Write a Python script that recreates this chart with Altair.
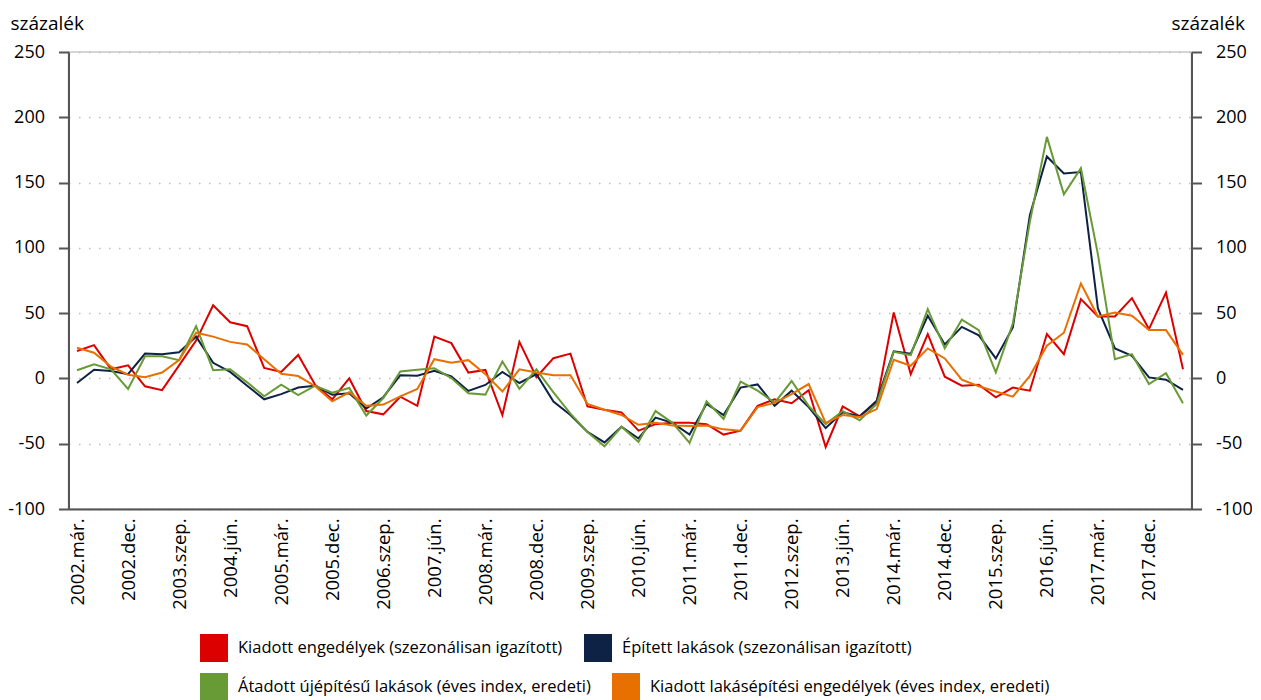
import altair as alt
import pandas as pd

years = list(range(2002, 2019))
months = ["már.", "jún.", "szep.", "dec."]
quarters = [f"{y}.{m}" for y in years for m in months][:66]
tick_labels = quarters[::3]

names = [
    "Kiadott engedélyek (szezonálisan igazított)",
    "Épített lakások (szezonálisan igazított)",
    "Átadott újépítésű lakások (éves index, eredeti)",
    "Kiadott lakásépítési engedélyek (éves index, eredeti)",
]
colors = ["#DC0000", "#0E2246", "#689A35", "#E87000"]

kiadott_sa = [21, 25.5, 7, 10, -6, -9, 10, 29, 56, 43, 40, 8, 5, 18, -5, -16,
              0, -25, -27.5, -14, -21, 32, 27, 4.5, 6.5, -28, 28, 1, 15.5, 19, -21.5, -24,
              -26, -40, -35, -34, -34, -35, -43, -40, -21, -16, -19, -9, -52.5, -21.5, -29, -18,
              50.5, 3.3, 34, 1.3, -5.6, -4.8, -14.5, -7, -9.4, 34, 18.6, 60.7, 47.4, 47.4,
              61.5, 37.8, 65.8, 7]
epitett_sa = [-3.5, 6.6, 5.6, 3.3, 19, 18.5, 20, 32, 12, 5, -5.6, -16, -12, -7, -5.6, -12.5,
              -11.4, -23, -14.4, 2.5, 2, 5.8, 1.5, -9.6, -5, 5, -3.5, 3.3, -17.7, -28, -41, -49,
              -37, -46, -30, -34, -43, -19.5, -28, -7, -4.6, -21, -9.4, -22, -38, -26, -29, -17,
              20.7, 19, 48, 26, 39.5, 33, 15.3, 39, 125, 170, 157, 158, 53.6, 23,
              17.3, 0.8, -1, -8.7]
atadott_ev = [6.3, 10.9, 7, -8, 17, 17, 14, 40, 6.3, 7, -3, -13.7, -4.8, -12.7, -5.6, -11,
              -7.3, -28.4, -15, 5.3, 6.6, 7.8, 0.3, -11.4, -12.4, 13, -8, 7, -10.6, -27, -41, -52,
              -37, -48.6, -25, -34, -49.4, -17.5, -31, -2.5, -9.4, -18.7, -2, -21, -35, -25, -32, -19.6,
              20.4, 17.9, 53, 23, 45, 37, 4.6, 42, 120, 185, 141, 161, 95, 14.8,
              18.6, -4.3, 4, -19]
kiadott_ev = [23.5, 19.7, 9, 2.8, 1, 4.5, 14, 35, 32, 28, 26, 14.7, 3.5, 1.8, -6, -17.5,
              -10.6, -21, -20, -13.7, -8, 14.7, 12, 14, 3.3, -10, 7, 4.5, 2.5, 2.5, -19.5, -24,
              -28, -35.5, -34, -36, -36.5, -36, -39, -40, -22, -18.7, -12, -4.3, -34, -28, -29.6, -23.5,
              14.3, 9.7, 23, 15.3, -1, -6, -10, -14, 2, 25, 35, 72.7, 47.4, 50.5,
              48, 37, 37, 18]

y_ticks = [-100, -50, 0, 50, 100, 150, 200, 250]

rows = []
for name, vals in zip(names, [kiadott_sa, epitett_sa, atadott_ev, kiadott_ev]):
    for q, v in zip(quarters, vals):
        rows.append({"negyedev": q, "ertek": v, "sorozat": name})
df = pd.DataFrame(rows)
df_a = df[df["sorozat"].isin(names[:2])]
df_b = df[df["sorozat"].isin(names[2:])]

AX = "#555555"

x_enc = alt.X(
    "negyedev:O", sort=quarters, title=None,
    scale=alt.Scale(type="point", padding=0.5),
    axis=alt.Axis(values=tick_labels, labelAngle=-90, ticks=False, tickSize=0,
                  labelPadding=9, domainColor=AX, domainWidth=2, grid=False,
                  labelFontSize=18.5, labelColor="#000"),
)

y_scale = alt.Scale(domain=[-100, 250], nice=False, zero=False)

common_axis = dict(values=y_ticks, title="százalék", titleAngle=0, titleBaseline="alphabetic",
                   titleY=-23, titleFontSize=19, titleFontWeight="normal", titleColor="#000",
                   ticks=True, tickSize=10, tickWidth=2, tickColor=AX, domainColor=AX, domainWidth=2,
                   labelPadding=14, labelFontSize=18, labelColor="#000",
                   labelExpr="'' + datum.value")

left_axis = alt.Axis(orient="left", titleAlign="left", titleX=-58.5, grid=True,
                     gridDash=[1.5, 8.5], gridColor="#bdbdbd", gridWidth=1.5, **common_axis)
right_axis = alt.Axis(orient="right", titleAlign="right", titleX=53, grid=False, **common_axis)

legend_common = dict(orient="none", direction="horizontal", title=None, symbolType="square",
                     symbolSize=196, symbolStrokeWidth=14, labelFontSize=16.5, labelColor="#000",
                     columnPadding=0, padding=0, labelOffset=10, labelLimit=0)

layer_a = alt.Chart(df_a).mark_line(strokeWidth=2).encode(
    x=x_enc,
    y=alt.Y("ertek:Q", scale=y_scale, axis=left_axis),
    color=alt.Color("sorozat:N", sort=names[:2],
                    scale=alt.Scale(domain=names[:2], range=colors[:2]),
                    legend=alt.Legend(legendX=131.5, legendY=582, **legend_common)),
)

layer_b = alt.Chart(df_b).mark_line(strokeWidth=2).encode(
    x=x_enc,
    y=alt.Y("ertek:Q", scale=y_scale, axis=right_axis),
    color=alt.Color("sorozat:N", sort=names[2:],
                    scale=alt.Scale(domain=names[2:], range=colors[2:]),
                    legend=alt.Legend(legendX=131.5, legendY=621, **legend_common)),
)

chart = (
    alt.layer(layer_a, layer_b)
    .resolve_scale(color="independent")
    .resolve_axis(y="independent")
    .resolve_legend(color="independent")
    .properties(width=1123, height=457,
                autosize=alt.AutoSizeParams(type="none"),
                padding={"left": 60.5, "top": 44, "right": 60, "bottom": 191})
    .configure(font="Open Sans")
    .configure_view(stroke="#c8c8c8", strokeWidth=1.5)
)

chart.save("out.html", embed_options={"renderer": "svg", "actions": False})
